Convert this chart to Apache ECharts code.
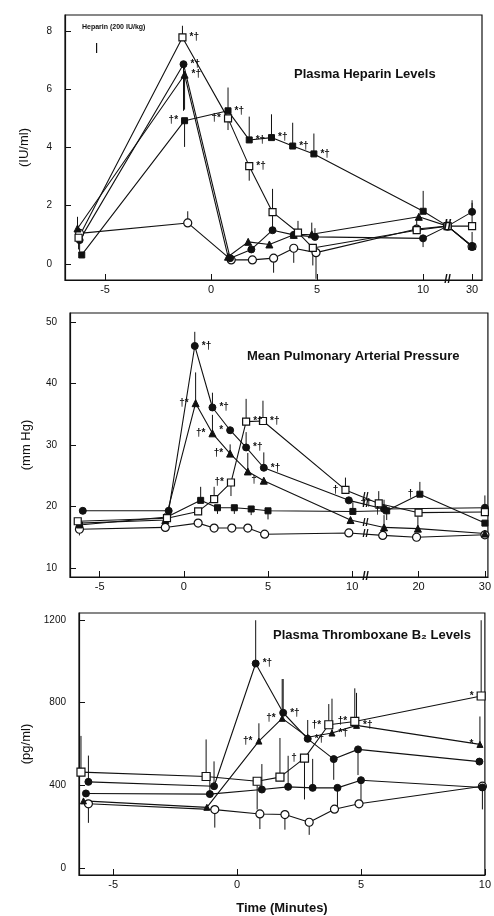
<!DOCTYPE html>
<html>
<head>
<meta charset="utf-8">
<title>Heparin, pulmonary pressure and thromboxane</title>
<script src="https://cdn.jsdelivr.net/npm/echarts@6/dist/echarts.min.js"></script>
<style>
  html, body { margin: 0; padding: 0; background: #fff; }
  #chart { width: 494px; height: 916px; }
</style>
</head>
<body>
<div id="chart"></div>
<script>
// ---------- panel 1: plasma heparin levels (IU/ml) ----------
const hepXTicks = [-5, 0, 5, 10, 30];
const hepYTicks = [0, 2, 4, 6, 8];

const hepDotT = [-6.2, -1.3, 0.9, 1.9, 2.9, 3.9, 4.9, 10, 20, 30];
const hepDotV = [0.82, 6.86, 0.2, 0.5, 1.16, 1.0, 0.93, 0.88, 1.3, 1.79];
const hepDotE = [-0.4, -1.6, 0, 0, 0.5, 0, 0.3, -0.3, 0, 0.4];
const hepDotS = ['', '*†', '', '', '', '', '', '', '', ''];

const hepTriT = [-6.3, -1.25, 0.8, 1.75, 2.75, 3.9, 4.75, 9.8, 20, 30];
const hepTriV = [1.22, 6.5, 0.25, 0.76, 0.67, 1.0, 1.02, 1.62, 1.3, 0.62];
const hepTriE = [0.4, -1.2, 0, 0, 0, 0, 0.4, 0, 0, 0];
const hepTriS = ['', '*†', '', '', '', '', '', '', '', ''];

const hepSqT = [-6.25, -1.35, 0.8, 1.8, 2.9, 4.1, 4.8, 9.7, 20, 30];
const hepSqV = [0.9, 7.78, 5.0, 3.36, 1.78, 1.08, 0.55, 1.16, 1.3, 1.3];
const hepSqE = [-0.4, 0.4, -0.4, -0.5, 0.8, 0.4, -0.6, 0.4, 0, 0.8];
const hepSqS = ['', '*†', '†*', '*†', '', '', '', '', '', ''];

const hepBlkT = [-6.1, -1.25, 0.8, 1.8, 2.85, 3.85, 4.85, 10.05, 20, 30];
const hepBlkV = [0.31, 4.92, 5.26, 4.26, 4.34, 4.05, 3.78, 1.81, 1.3, 0.6];
const hepBlkE = [0, -0.9, 0.8, 0.8, 0.8, 0.8, 0.7, 0.7, 0, 0.5];
const hepBlkS = ['', '†*', '*†', '*†', '*†', '*†', '*†', '', '', ''];

const hepCtlT = [-6.2, -1.1, 0.95, 1.95, 2.95, 3.9, 4.95, 9.7, 20, 30];
const hepCtlV = [1.05, 1.41, 0.14, 0.14, 0.2, 0.54, 0.39, 1.2, 1.3, 0.6];
const hepCtlE = [0, 0.4, 0, 0, -0.5, -0.5, -0.9, 0, 0, 0];

// ---------- panel 2: mean pulmonary arterial pressure (mm Hg) ----------
const papXTicks = [-5, 0, 5, 10, 20, 30];
const papYTicks = [10, 20, 30, 40, 50];

const papDotT = [-6.0, -0.9, 0.65, 1.7, 2.75, 3.7, 4.75, 9.8, 14.8, 30];
const papDotV = [19.3, 19.3, 46.1, 36.1, 32.4, 29.6, 26.3, 21.0, 19.6, 19.8];
const papDotE = [0, 0, 2.3, 2.4, 0, 2.5, 2.5, 0, 1.5, 2];
const papDotS = ['', '', '*†', '*†', '*', '*†', '*†', '', '', ''];

const papTriT = [-6.2, -1.1, 0.7, 1.7, 2.75, 3.8, 4.75, 9.9, 14.8, 19.9, 30];
const papTriV = [17.3, 17.8, 36.8, 31.9, 28.6, 25.7, 24.2, 17.8, 16.6, 16.4, 15.6];
const papTriE = [0, 0, 5, 3, 1.5, 3, 0, 0, 2, 2, 0];
const papTriS = ['', '', '†*', '†*', '†*', '', '†', '', '', '', ''];

const papSqT = [-6.3, -1.0, 0.85, 1.8, 2.8, 3.7, 4.7, 9.6, 14.0, 20, 30];
const papSqV = [17.6, 18.1, 19.2, 21.2, 23.9, 33.8, 33.9, 22.7, 20.5, 19.0, 19.1];
const papSqE = [0, 0, 0, 2, -2.2, 3.7, 3.3, 2, 2, 0, 0];
const papSqS = ['', '', '', '', '†*', '*†', '*†', '†', '††', '', ''];

const papBlkT = [-6.2, -1.0, 1.0, 2.0, 3.0, 4.0, 5.0, 10.1, 15.2, 20.2, 30];
const papBlkV = [17.0, 18.3, 21.0, 19.8, 19.8, 19.6, 19.3, 19.2, 19.3, 22.0, 17.3];
const papBlkE = [-1.0, 0, 2.2, -1, -1, -1, -1.4, 1.5, -1.5, 2, 0];
const papBlkS = ['', '', '', '', '', '', '', '', '†', '†', ''];

const papCtlT = [-6.2, -1.1, 0.85, 1.8, 2.85, 3.8, 4.8, 9.8, 14.6, 19.7, 30];
const papCtlV = [16.3, 16.6, 17.3, 16.5, 16.5, 16.5, 15.5, 15.7, 15.3, 15.0, 15.4];
const papCtlE = [-1, 0, 0, 0, 0, 0, 0, 0, 0, 0, 0];

// ---------- panel 3: plasma thromboxane B2 (pg/ml) ----------
const txXTicks = [-5, 0, 5, 10];
const txYTicks = [0, 400, 800, 1200];

const txDotT = [-6.0, -0.93, 0.75, 1.86, 2.85, 3.9, 4.88, 9.78];
const txDotV = [417, 396, 989, 751, 625, 527, 574, 515];
const txDotE = [127, 120, 209, 163, 91, -100, -124, 0];
const txDotS = ['', '', '*†', '*†', '*†', '', '', ''];

const txTriT = [-6.2, -1.22, 0.88, 1.82, 2.85, 3.83, 4.82, 9.8];
const txTriV = [325, 294, 614, 724, 633, 653, 690, 598];
const txTriE = [0, 0, 86, 190, 0, 166, 157, 135];
const txTriS = ['', '', '†*', '†*', '', '*†', '*†', '*'];

const txSqT = [-6.3, -1.25, 0.81, 1.73, 2.72, 3.7, 4.75, 9.85];
const txSqV = [464, 443, 420, 440, 532, 693, 709, 832];
const txSqE = [175, 179, -137, 189, -200, 100, 160, 366];
const txSqS = ['', '', '', '', '†', '†*', '†*', '*'];

const txBlkT = [-6.1, -1.1, 1.0, 2.06, 3.05, 4.05, 5.0, 9.9];
const txBlkV = [361, 358, 380, 393, 388, 388, 425, 390];
const txBlkE = [0, 100, 123, 150, 140, -100, -124, -106];

const txCtlT = [-6.0, -0.9, 0.92, 1.93, 2.91, 3.93, 4.92, 9.9];
const txCtlV = [311, 283, 262, 259, 222, 285, 311, 396];
const txCtlE = [-92, -87, -73, -73, -61, 0, 0, 0];

// broken time axes: minutes after 10 are squeezed
const hepPos = t => (t <= 10 ? t : 10 + (t - 10) * 0.1156);
const papPos = t => (t <= 10 ? t : 10 + (t - 10) * 0.394);
const txPos = t => t;
const hepBack = p => (p <= 10.01 ? p : 10 + (p - 10) / 0.1156);
const papBack = p => (p <= 10.01 ? p : 10 + (p - 10) / 0.394);

const FONT = 'Liberation Sans';
const INK = '#111';

function lineSeries(gi, pos, ts, vs, sig, symbol, open, size) {
  return {
    type: 'line',
    xAxisIndex: gi,
    yAxisIndex: gi,
    symbol: symbol,
    symbolSize: size || 7,
    showAllSymbol: true,
    lineStyle: { color: INK, width: 1.1 },
    itemStyle: open
      ? { color: '#fff', borderColor: INK, borderWidth: 1.2 }
      : { color: INK, borderColor: INK, borderWidth: 1 },
    z: 4,
    data: ts.map((t, i) => {
      const s = sig && sig[i];
      const item = { value: [pos(t), vs[i]] };
      if (s) {
        // daggers first -> written left of the point, like the original
        const left = s[0] === '†' || s === '*';
        item.label = {
          show: true,
          formatter: s,
          position: left ? 'left' : 'right',
          distance: 3,
          fontSize: 10,
          fontWeight: 'bold',
          fontFamily: FONT,
          color: INK
        };
      }
      return item;
    })
  };
}

function errSeries(gi, pos, ts, vs, es) {
  return {
    type: 'custom',
    xAxisIndex: gi,
    yAxisIndex: gi,
    z: 3,
    silent: true,
    encode: { x: 0, y: 1 },
    data: ts.map((t, i) => [pos(t), vs[i], es[i]]),
    renderItem: function (params, api) {
      const e = api.value(2);
      if (!e) return null;
      const a = api.coord([api.value(0), api.value(1)]);
      const b = api.coord([api.value(0), api.value(1) + e]);
      return {
        type: 'line',
        shape: { x1: a[0], y1: a[1], x2: b[0], y2: b[1] },
        style: { stroke: INK, lineWidth: 1 }
      };
    }
  };
}

function xAxis(gi, min, max, ticks, pos, back, name) {
  return {
    type: 'value',
    gridIndex: gi,
    min: min,
    max: max,
    name: name || '',
    nameLocation: 'middle',
    nameGap: 27,
    nameTextStyle: { fontFamily: FONT, fontSize: 13, fontWeight: 'bold', color: INK },
    splitLine: { show: false },
    axisLine: { onZero: false, lineStyle: { color: INK, width: 1.2 } },
    axisTick: { inside: true, length: 6, customValues: ticks.map(pos), lineStyle: { color: INK } },
    axisLabel: {
      customValues: ticks.map(pos),
      margin: 4,
      fontFamily: FONT,
      fontSize: 11,
      color: INK,
      formatter: v => String(Math.round(back(v)))
    }
  };
}

function yAxis(gi, min, max, ticks, name, gap) {
  return {
    type: 'value',
    gridIndex: gi,
    min: min,
    max: max,
    name: name,
    nameLocation: 'middle',
    nameGap: gap,
    nameRotate: 90,
    nameTextStyle: { fontFamily: FONT, fontSize: 13, color: INK },
    splitLine: { show: false },
    axisLine: { show: true, onZero: false, lineStyle: { color: INK, width: 1.2 } },
    axisTick: { inside: true, length: 6, customValues: ticks, lineStyle: { color: INK } },
    axisLabel: {
      customValues: ticks,
      margin: 13,
      fontFamily: FONT,
      fontSize: 10,
      color: INK,
      formatter: v => String(v)
    }
  };
}

const chart = echarts.init(document.getElementById('chart'), null, { renderer: 'canvas' });

const titleStyle = { fontFamily: FONT, fontSize: 13, fontWeight: 'bold', color: INK };

const option = {
  animation: false,
  backgroundColor: '#fff',
  title: [
    { text: 'Plasma Heparin Levels', left: 289, top: 63, textStyle: titleStyle },
    { text: 'Mean Pulmonary Arterial Pressure', left: 242, top: 345, textStyle: titleStyle },
    { text: 'Plasma Thromboxane B\u2082 Levels', left: 268, top: 624, textStyle: titleStyle }
  ],
  grid: [
    { left: 65, top: 15, width: 417, height: 265, show: true, borderColor: INK, borderWidth: 1.2 },
    { left: 70, top: 313, width: 422, height: 264, show: true, borderColor: INK, borderWidth: 1.2 },
    { left: 79, top: 613, width: 414, height: 267, show: true, borderColor: INK, borderWidth: 1.2 }
  ],
  xAxis: [
    xAxis(0, -6.89, 12.78, hepXTicks, hepPos, hepBack),
    xAxis(1, -6.76, 18.06, papXTicks, papPos, papBack),
    xAxis(2, -6.38, 10, txXTicks, txPos, p => p, 'Time (Minutes)')
  ],
  yAxis: [
    yAxis(0, -0.55, 8.55, hepYTicks, '(IU/ml)', 34),
    yAxis(1, 8.54, 51.46, papYTicks, '(mm Hg)', 37),
    yAxis(2, -33, 1233, txYTicks, '(pg/ml)', 44)
  ],
  series: [
    errSeries(0, hepPos, hepDotT, hepDotV, hepDotE),
    errSeries(0, hepPos, hepTriT, hepTriV, hepTriE),
    errSeries(0, hepPos, hepSqT, hepSqV, hepSqE),
    errSeries(0, hepPos, hepBlkT, hepBlkV, hepBlkE),
    errSeries(0, hepPos, hepCtlT, hepCtlV, hepCtlE),
    lineSeries(0, hepPos, hepCtlT, hepCtlV, null, 'circle', true, 8),
    lineSeries(0, hepPos, hepDotT, hepDotV, hepDotS, 'circle', false, 7),
    lineSeries(0, hepPos, hepTriT, hepTriV, hepTriS, 'triangle', false, 7),
    lineSeries(0, hepPos, hepBlkT, hepBlkV, hepBlkS, 'rect', false, 6),
    lineSeries(0, hepPos, hepSqT, hepSqV, hepSqS, 'rect', true, 7),

    errSeries(1, papPos, papDotT, papDotV, papDotE),
    errSeries(1, papPos, papTriT, papTriV, papTriE),
    errSeries(1, papPos, papSqT, papSqV, papSqE),
    errSeries(1, papPos, papBlkT, papBlkV, papBlkE),
    errSeries(1, papPos, papCtlT, papCtlV, papCtlE),
    lineSeries(1, papPos, papCtlT, papCtlV, null, 'circle', true, 8),
    lineSeries(1, papPos, papDotT, papDotV, papDotS, 'circle', false, 7),
    lineSeries(1, papPos, papTriT, papTriV, papTriS, 'triangle', false, 7),
    lineSeries(1, papPos, papBlkT, papBlkV, papBlkS, 'rect', false, 6),
    lineSeries(1, papPos, papSqT, papSqV, papSqS, 'rect', true, 7),

    errSeries(2, txPos, txDotT, txDotV, txDotE),
    errSeries(2, txPos, txTriT, txTriV, txTriE),
    errSeries(2, txPos, txSqT, txSqV, txSqE),
    errSeries(2, txPos, txBlkT, txBlkV, txBlkE),
    errSeries(2, txPos, txCtlT, txCtlV, txCtlE),
    lineSeries(2, txPos, txCtlT, txCtlV, null, 'circle', true, 8),
    lineSeries(2, txPos, txDotT, txDotV, txDotS, 'circle', false, 7),
    lineSeries(2, txPos, txTriT, txTriV, txTriS, 'triangle', false, 6),
    lineSeries(2, txPos, txBlkT, txBlkV, null, 'circle', false, 7),
    lineSeries(2, txPos, txSqT, txSqV, txSqS, 'rect', true, 8)
  ]
};

chart.setOption(option);

// break marks and the heparin dose note, placed through the axes
const PAP_BREAK = 12;
function valueAt(ts, vs, t) {
  for (let i = 1; i < ts.length; i++) {
    if (ts[i] >= t) {
      const f = (t - ts[i - 1]) / (ts[i] - ts[i - 1]);
      return vs[i - 1] + f * (vs[i] - vs[i - 1]);
    }
  }
  return vs[vs.length - 1];
}
const papPx = v => chart.convertToPixel({ xAxisIndex: 1, yAxisIndex: 1 }, [papPos(PAP_BREAK), v]);

const hepBreak = chart.convertToPixel({ xAxisIndex: 0, yAxisIndex: 0 }, [hepPos(20), -0.55]);
const hepKnot = chart.convertToPixel({ xAxisIndex: 0, yAxisIndex: 0 }, [hepPos(20), 1.3]);
const doseAt = chart.convertToPixel({ xAxisIndex: 0, yAxisIndex: 0 }, [-5.4, 8.0]);

function slash(p, size) {
  return {
    type: 'text',
    x: p[0],
    y: p[1],
    z: 10,
    style: {
      text: '//',
      fontSize: size,
      fontWeight: 'bold',
      fontFamily: FONT,
      fill: INK,
      align: 'center',
      verticalAlign: 'middle'
    }
  };
}

const lineBreaks = [
  [papDotT, papDotV], [papTriT, papTriV], [papSqT, papSqV], [papCtlT, papCtlV]
].map(s => slash(papPx(valueAt(s[0], s[1], PAP_BREAK)), 11));

chart.setOption({
  graphic: [
    slash(hepBreak, 12),
    slash(hepKnot, 14),
    slash(papPx(8.54), 12)
  ].concat(lineBreaks, [
    {
      type: 'text',
      x: 82,
      y: 24,
      style: { text: 'Heparin (200 IU/kg)', fontSize: 7, fontWeight: 'bold', fontFamily: FONT, fill: INK }
    },
    {
      type: 'line',
      shape: { x1: doseAt[0], y1: doseAt[1] + 12, x2: doseAt[0], y2: doseAt[1] + 22 },
      style: { stroke: INK, lineWidth: 1.2 }
    }
  ])
});
</script>
</body>
</html>
